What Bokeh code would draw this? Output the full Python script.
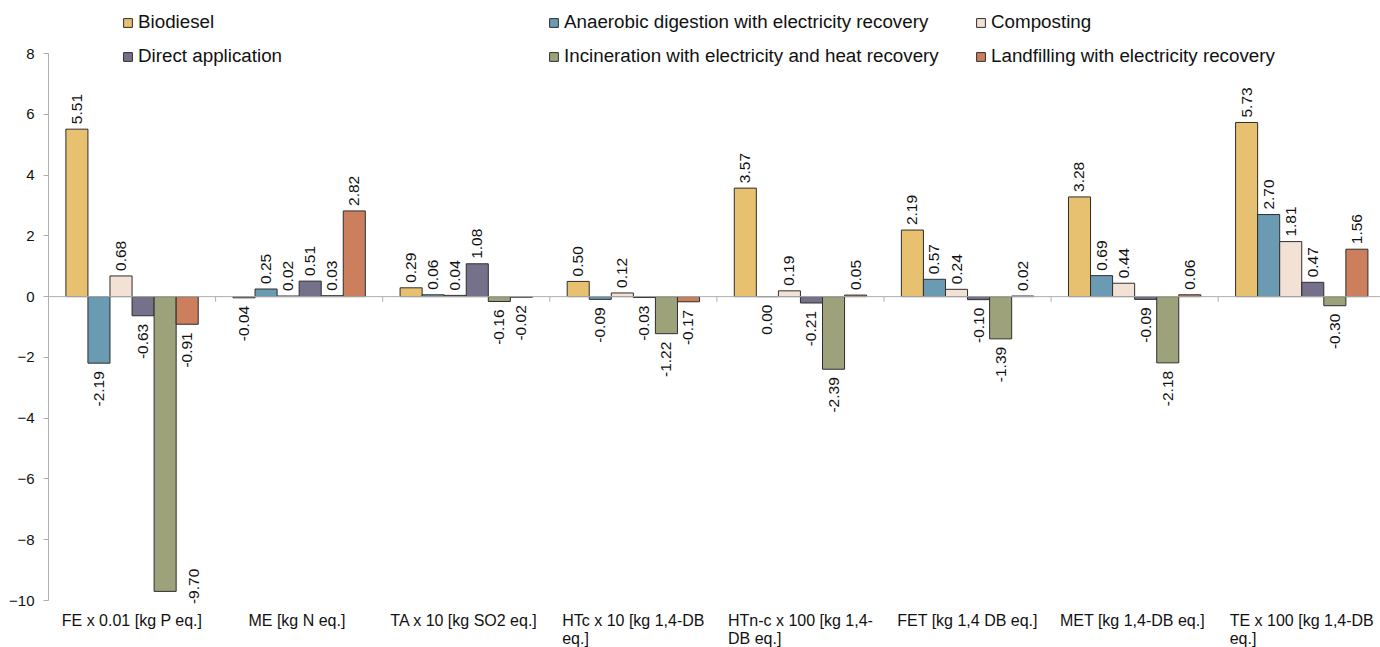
import math
from bokeh.plotting import figure
from bokeh.models import (ColumnDataSource, FixedTicker, Span, Legend, LegendItem,
                          LabelSet, Range1d)
from bokeh.core.properties import value
from bokeh.transform import dodge
from bokeh.embed import file_html
from bokeh.resources import INLINE

# ---------------- data ----------------
categories = [
    "FE x 0.01 [kg P eq.]",
    "ME  [kg N eq.]",
    "TA  x 10 [kg SO2 eq.]",
    "HTc x 10 [kg 1,4-DB\neq.]",
    "HTn-c x 100 [kg 1,4-\nDB eq.]",
    "FET [kg 1,4 DB eq.]",
    "MET  [kg 1,4-DB eq.]",
    "TE x 100 [kg 1,4-DB\neq.]",
]
series_names = [
    "Biodiesel",
    "Anaerobic digestion with electricity recovery",
    "Composting",
    "Direct application",
    "Incineration with electricity and heat recovery",
    "Landfilling with electricity recovery",
]
biodiesel = [5.51, -0.04, 0.29, 0.50, 3.57, 2.19, 3.28, 5.73]
anaerobic = [-2.19, 0.25, 0.06, -0.09, 0.00, 0.57, 0.69, 2.70]
composting = [0.68, 0.02, 0.04, 0.12, 0.19, 0.24, 0.44, 1.81]
direct = [-0.63, 0.51, 1.08, -0.03, -0.21, -0.10, -0.09, 0.47]
incineration = [-9.70, 0.03, -0.16, -1.22, -2.39, -1.39, -2.18, -0.30]
landfilling = [-0.91, 2.82, -0.02, -0.17, 0.05, 0.02, 0.06, 1.56]
y_ticks = [-10, -8, -6, -4, -2, 0, 2, 4, 6, 8]

series_values = [biodiesel, anaerobic, composting, direct, incineration, landfilling]
colors = ["#E8C170", "#6A9BB3", "#F3E1D5", "#76718B", "#9DA27B", "#CC7F5C"]

# ---------------- layout ----------------
FONT = "Liberation Sans"
W, H = 1380, 647
n = len(categories)
bar_w = 0.132
ppu = 547 / (y_ticks[-1] - y_ticks[0])      # pixels per y unit
top_pad, bot_pad = 53, 47                     # room for legend / category labels
cat_px = 167.1
left = 48
label_len = 34 / ppu                          # approx. length of a rotated value label

p = figure(width=W, height=H, output_backend="svg", toolbar_location=None,
           x_range=Range1d(-0.5, -0.5 + (W - left) / cat_px),
           y_range=Range1d(y_ticks[0] - bot_pad / ppu, y_ticks[-1] + top_pad / ppu),
           x_axis_location=None, min_border_left=left, min_border_right=0,
           min_border_top=0, min_border_bottom=0)
p.outline_line_color = None
p.xgrid.visible = False
p.ygrid.visible = False
p.background_fill_color = "white"
p.border_fill_color = "white"

yax = p.yaxis[0]
yax.ticker = FixedTicker(ticks=y_ticks)
yax.bounds = (y_ticks[0], y_ticks[-1])
yax.minor_tick_line_color = None
yax.axis_line_color = "#AFAFAF"
yax.major_tick_line_color = "#AFAFAF"
yax.major_tick_out = 5
yax.major_tick_in = 0
yax.major_label_standoff = 9
yax.major_label_text_font = FONT
yax.major_label_text_font_size = "15px"
yax.major_label_text_color = "#111111"

# zero line and category boundary ticks
p.add_layout(Span(location=0, dimension="width", line_color="#AFAFAF", line_width=1))
bounds = [i + 0.5 for i in range(n - 1)]
p.segment(x0=bounds, x1=bounds, y0=[0] * len(bounds), y1=[-0.17] * len(bounds),
          line_color="#AFAFAF", line_width=1)


def add_labels(items, off, align, yoff):
    if not items:
        return
    lsrc = ColumnDataSource(dict(x=[i for i, _ in items], y=[v for _, v in items],
                                 t=[f"{v:.2f}" for _, v in items]))
    p.add_layout(LabelSet(x=dodge("x", off), y="y", text="t", source=lsrc,
                          angle=math.pi / 2, text_align=align, text_baseline="middle",
                          y_offset=yoff, text_font=value(FONT), text_font_size="15.5px",
                          text_color="#111111"))


renderers = []
for j, (name, vals, col) in enumerate(zip(series_names, series_values, colors)):
    off = (j - 2.5) * bar_w
    src = ColumnDataSource(dict(x=list(range(n)), top=vals))
    r = p.vbar(x=dodge("x", off), top="top", bottom=0, width=bar_w, source=src,
               fill_color=col, line_color="#2E2E2E", line_width=1)
    renderers.append(r)

    pos = [(i, v) for i, v in enumerate(vals) if v > 0]
    neg = [(i, v) for i, v in enumerate(vals) if v <= 0 and v - label_len >= y_ticks[0]]
    side = [(i, v) for i, v in enumerate(vals) if v - label_len < y_ticks[0]]
    add_labels(pos, off, "left", 5)
    add_labels(neg, off, "right", -8)
    add_labels(side, off + 1.3 * bar_w, "center", 5)

# category labels along the bottom
csrc = ColumnDataSource(dict(x=list(range(n)), y=[y_ticks[0]] * n, t=categories))
p.add_layout(LabelSet(x="x", y="y", text="t", source=csrc, text_align="center",
                      text_baseline="top", y_offset=-11, text_font=value(FONT),
                      text_font_size="16px", text_color="#111111", text_line_height=1.08))

# legend: three columns, two rows
cols = [(0, 3, 74), (1, 4, 500), (2, 5, 927)]
for a, b, xloc in cols:
    leg = Legend(items=[LegendItem(label=series_names[a], renderers=[renderers[a]]),
                        LegendItem(label=series_names[b], renderers=[renderers[b]])],
                 location=(xloc, H - 67), orientation="vertical",
                 border_line_color=None, background_fill_alpha=0,
                 padding=0, margin=0, spacing=12,
                 glyph_width=11, glyph_height=11, label_standoff=5,
                 label_text_font=FONT, label_text_font_size="18.8px",
                 label_text_color="#111111", label_height=21)
    p.add_layout(leg)

open("out.html", "w").write(file_html(p, INLINE))
